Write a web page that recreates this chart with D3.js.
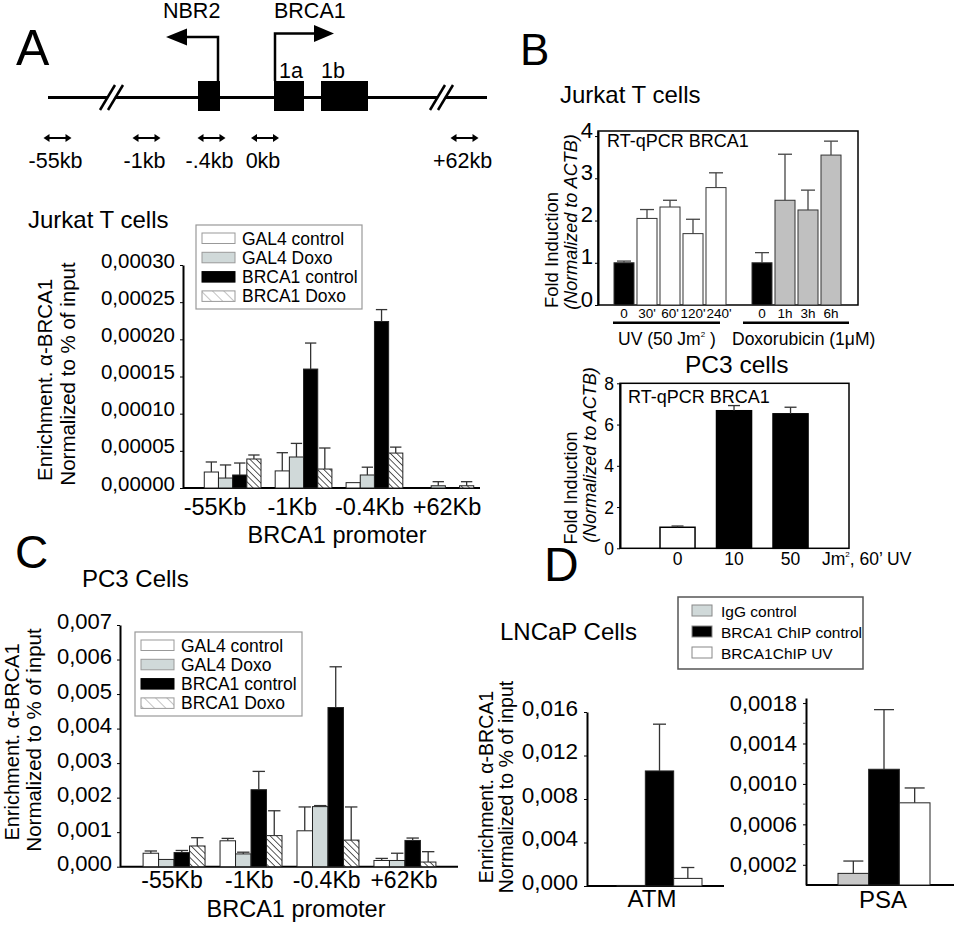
<!DOCTYPE html>
<html>
<head>
<meta charset="utf-8">
<script src="https://cdn.jsdelivr.net/npm/d3@7"></script>
<style>
body { margin: 0; background: #fff; }
svg text { font-family: "Liberation Sans", Arial, sans-serif; fill: #000; }
</style>
</head>
<body>
<svg id="fig" width="954" height="935"></svg>
<script>
// ---- data ----
var sites = ["-55Kb", "-1Kb", "-0.4Kb", "+62Kb"];
var chipSeries = ["GAL4 control", "GAL4 Doxo", "BRCA1 control", "BRCA1 Doxo"];
// rows = sites, cols = series
var jurkatChip = [
  [0.0000215, 0.0000134, 0.0000175, 0.000039],
  [0.000023, 0.0000417, 0.00016, 0.0000255],
  [0.0000072, 0.0000175, 0.000224, 0.000047],
  [0, 0.000003, 0, 0.000003]
];
var jurkatChipErr = [
  [0.0000135, 0.0000176, 0.0000161, 0.0000054],
  [0.0000245, 0.0000183, 0.000035, 0.0000283],
  [0, 0.0000105, 0.000016, 0.000008],
  [0, 0.0000055, 0, 0.0000055]
];
var pc3Chip = [
  [0.00039, 0.00021, 0.00041, 0.0006],
  [0.00075, 0.00037, 0.00223, 0.0009],
  [0.00104, 0.00174, 0.00461, 0.00077],
  [0.00018, 0.00018, 0.00076, 0.000135]
];
var pc3ChipErr = [
  [0.000065, 0.00001, 0.00006, 0.00024],
  [0.00007, 0.00005, 0.00053, 0.00072],
  [0.00069, 0.00003, 0.00118, 0.00096],
  [0.00006, 0.00021, 0.00007, 0.0003]
];

var rtLabels = ["0", "30'", "60'", "120'", "240'", "0", "1h", "3h", "6h"];
var rtTreat = ["none", "UV", "UV", "UV", "UV", "none", "Doxo", "Doxo", "Doxo"];
var rtJurkat = [1.0, 2.05, 2.32, 1.69, 2.78, 1.0, 2.48, 2.25, 3.55];
var rtJurkatErr = [0.04, 0.21, 0.16, 0.34, 0.35, 0.24, 1.09, 0.47, 0.33];

var uvDoses = ["0", "10", "50"];
var rtPC3 = [1.02, 6.67, 6.52];
var rtPC3Err = [0.06, 0.25, 0.32];

var lncapSeries = ["IgG control", "BRCA1 ChIP control", "BRCA1ChIP UV"];
var atm = [0.00005, 0.01058, 0.0007];
var atmErr = [0, 0.0043, 0.001];
var psa = [0.000115, 0.001145, 0.000813];
var psaErr = [0.000122, 0.00059, 0.000147];

var primers = ["-55kb", "-1kb", "-.4kb", "0kb", "+62kb"];

// ---- setup ----
var svg = d3.select("#fig");
var defs = svg.append("defs");

function hatch(id, gap, color, w) {
  var p = defs.append("pattern").attr("id", id)
    .attr("patternUnits", "userSpaceOnUse")
    .attr("width", gap).attr("height", gap)
    .attr("patternTransform", "rotate(-45)");
  p.append("rect").attr("width", gap).attr("height", gap).attr("fill", "#fff");
  p.append("line").attr("x1", 0).attr("y1", 0).attr("x2", 0).attr("y2", gap)
    .attr("stroke", color).attr("stroke-width", w);
}
hatch("hatch", 4.5, "#000", 1.3);
hatch("hatchLeg", 8, "#888", 1);

var chipFill = {"GAL4 control": "#fff", "GAL4 Doxo": "#d0d9d9", "BRCA1 control": "#000", "BRCA1 Doxo": "url(#hatch)"};
var chipLegFill = {"GAL4 control": "#fff", "GAL4 Doxo": "#d0d9d9", "BRCA1 control": "#000", "BRCA1 Doxo": "url(#hatchLeg)"};

function txt(x, y, s, size, anchor) {
  return svg.append("text").attr("x", x).attr("y", y).attr("font-size", size)
    .attr("text-anchor", anchor || "start").text(s);
}
function vlabel(cx, cy, s, size, italic) {
  return svg.append("text").attr("transform", "translate(" + cx + "," + cy + ") rotate(-90)")
    .attr("dy", "0.35em").attr("text-anchor", "middle").attr("font-size", size)
    .attr("font-style", italic ? "italic" : null).text(s);
}
function errBar(g, cx, yTop, yErr, cw, col) {
  if (Math.abs(yTop - yErr) < 0.5) return;
  g.append("line").attr("x1", cx).attr("x2", cx).attr("y1", yTop).attr("y2", yErr)
    .attr("stroke", col).attr("stroke-width", 1.3);
  g.append("line").attr("x1", cx - cw / 2).attr("x2", cx + cw / 2).attr("y1", yErr).attr("y2", yErr)
    .attr("stroke", col).attr("stroke-width", 1.3);
}
function commaFmt(f) {
  return function(d) { return d3.format(f)(d).replace(".", ","); };
}
function styleAxis(ax, size, dy) {
  ax.attr("font-size", size).attr("font-family", null);
  ax.select(".domain").attr("stroke-width", 2);
  ax.selectAll(".tick line").attr("stroke-width", 1);
  ax.selectAll(".tick text").attr("dy", dy);
}

// ---- panel A diagram ----
txt(16, 65, "A", 50);
svg.append("line").attr("x1", 48).attr("x2", 487).attr("y1", 97.5).attr("y2", 97.5)
  .attr("stroke", "#000").attr("stroke-width", 3);
[100, 430].forEach(function(bx) {
  svg.append("polygon").attr("points", [[bx, 110], [bx + 8, 110], [bx + 23, 85], [bx + 15, 85]].join(" "))
    .attr("fill", "#fff");
  [0, 8].forEach(function(o) {
    svg.append("line").attr("x1", bx + o).attr("y1", 110).attr("x2", bx + o + 15).attr("y2", 85)
      .attr("stroke", "#000").attr("stroke-width", 2.5);
  });
});
[[198, 220], [274, 304], [321, 368]].forEach(function(e) {
  svg.append("rect").attr("x", e[0]).attr("y", 81).attr("width", e[1] - e[0]).attr("height", 30).attr("fill", "#000");
});
svg.append("path").attr("d", "M218,81V37H184").attr("fill", "none").attr("stroke", "#000").attr("stroke-width", 2.5);
svg.append("polygon").attr("points", "166,37 187,28.5 187,45.5").attr("fill", "#000");
svg.append("path").attr("d", "M275,81V33.5H318").attr("fill", "none").attr("stroke", "#000").attr("stroke-width", 2.5);
svg.append("polygon").attr("points", "334,33.5 314,25 314,42").attr("fill", "#000");
txt(163, 18, "NBR2", 21.5);
txt(274, 18, "BRCA1", 21.5);
txt(279, 78, "1a", 21.5);
txt(321, 78, "1b", 21.5);

var primerX = d3.scaleOrdinal().domain(primers).range([57.5, 146.5, 211.5, 265, 464.5]);
primers.forEach(function(p) {
  var cx = primerX(p);
  svg.append("line").attr("x1", cx - 9).attr("x2", cx + 9).attr("y1", 138).attr("y2", 138)
    .attr("stroke", "#000").attr("stroke-width", 2);
  svg.append("polygon").attr("points", [[cx - 14, 138], [cx - 8, 134], [cx - 8, 142]].join(" ")).attr("fill", "#000");
  svg.append("polygon").attr("points", [[cx + 14, 138], [cx + 8, 134], [cx + 8, 142]].join(" ")).attr("fill", "#000");
  txt(cx - 2, 168, p, 21.5, "middle");
});

// ---- grouped ChIP chart (A, C) ----
function chipChart(c) {
  var g = svg.append("g");
  var y = d3.scaleLinear().domain([0, c.ymax]).range([c.y0, c.y1]);
  var x = d3.scaleBand().domain(sites).range([c.x0, c.x1]).paddingInner(c.pi).paddingOuter(c.po);
  var xs = d3.scaleBand().domain(chipSeries).range([0, x.bandwidth()]);
  var xl = d3.scalePoint().domain(sites).range(c.labRange);
  var ax = g.append("g").attr("transform", "translate(" + c.x0 + ",0)")
    .call(d3.axisLeft(y).tickValues(c.ticks).tickSize(3).tickSizeOuter(0).tickPadding(5).tickFormat(commaFmt(c.fmt)));
  styleAxis(ax, c.tickSize, c.dy);
  g.append("line").attr("x1", c.x0).attr("x2", c.xEnd).attr("y1", c.y0).attr("y2", c.y0)
    .attr("stroke", "#000").attr("stroke-width", 2);
  var flat = [];
  sites.forEach(function(s, i) {
    chipSeries.forEach(function(k, j) {
      flat.push({site: s, series: k, v: c.vals[i][j], e: c.errs[i][j]});
    });
  });
  g.selectAll("rect.bar").data(flat.filter(function(d) { return d.v > 0; })).enter().append("rect")
    .attr("class", "bar")
    .attr("x", function(d) { return x(d.site) + xs(d.series); })
    .attr("y", function(d) { return y(d.v); })
    .attr("width", xs.bandwidth())
    .attr("height", function(d) { return c.y0 - y(d.v); })
    .attr("fill", function(d) { return chipFill[d.series]; })
    .attr("stroke", "#222").attr("stroke-width", 1);
  flat.forEach(function(d) {
    if (d.e > 0) errBar(g, x(d.site) + xs(d.series) + xs.bandwidth() / 2, y(d.v), y(d.v + d.e), xs.bandwidth() * 0.8, "#333");
  });
  sites.forEach(function(s) {
    txt(xl(s), c.labY, s, c.labSize, "middle");
  });
  // legend
  var lg = c.leg;
  svg.append("rect").attr("x", lg.x).attr("y", lg.y).attr("width", lg.w).attr("height", lg.h)
    .attr("fill", "#fff").attr("stroke", "#999").attr("stroke-width", 1.2);
  chipSeries.forEach(function(k, j) {
    var ty = lg.y + 8 + j * 19.3;
    svg.append("rect").attr("x", lg.x + 6).attr("y", ty).attr("width", 33).attr("height", 10.5)
      .attr("fill", chipLegFill[k]).attr("stroke", k === "BRCA1 control" ? "#000" : "#999").attr("stroke-width", 1);
    txt(lg.x + 46, ty + 11.5, k, 17.5);
  });
}

txt(28, 228, "Jurkat T cells", 24);
chipChart({
  vals: jurkatChip, errs: jurkatChipErr, ymax: 0.0003, y0: 488, y1: 265,
  x0: 183, x1: 495, xEnd: 480, pi: 0.2, po: 0.3,
  ticks: d3.range(0, 0.000301, 0.00005), fmt: ".5f", tickSize: 20.5, dy: "0.1em",
  labY: 515, labSize: 23.5, labRange: [215, 447],
  leg: {x: 196, y: 225, w: 166, h: 84}
});
txt(337, 543, "BRCA1 promoter", 23.5, "middle");
vlabel(45, 380, "Enrichment. α-BRCA1", 20.5);
vlabel(68, 374, "Normalized to % of input", 20.5);

txt(15, 568, "C", 46);
txt(82, 587, "PC3 Cells", 24);
chipChart({
  vals: pc3Chip, errs: pc3ChipErr, ymax: 0.007, y0: 866.7, y1: 625,
  x0: 120, x1: 459, xEnd: 458, pi: 0.195, po: 0.3,
  ticks: d3.range(0, 0.00701, 0.001), fmt: ".3f", tickSize: 22, dy: "0.18em",
  labY: 888, labSize: 23, labRange: [172, 404],
  leg: {x: 135, y: 632, w: 167, h: 84}
});
txt(296, 917, "BRCA1 promoter", 23.5, "middle");
vlabel(12, 742, "Enrichment. α-BRCA1", 20);
vlabel(34, 740, "Normalized to % of input", 20.5);

// ---- panel B: RT-qPCR Jurkat ----
txt(520, 65, "B", 44);
txt(560, 103, "Jurkat T cells", 24);
var gB = svg.append("g");
var yB = d3.scaleLinear().domain([0, 4.12]).range([305, 131]);
var xB = d3.scaleBand().domain(d3.range(10)).range([612.5, 842.5]).paddingInner(0.13).paddingOuter(0.065);
function slotB(i) { return i < 5 ? i : i + 1; }
var axB = gB.append("g").attr("transform", "translate(598,0)")
  .call(d3.axisLeft(yB).tickValues([0, 1, 2, 3, 4]).tickSize(3).tickSizeOuter(0).tickPadding(2).tickFormat(d3.format("d")));
styleAxis(axB, 22, "0.05em");
gB.append("rect").attr("x", 598).attr("y", 131).attr("width", 260).attr("height", 174)
  .attr("fill", "none").attr("stroke", "#000").attr("stroke-width", 1.5);
var treatFill = {none: "#000", UV: "#fff", Doxo: "#c0c0c0"};
gB.selectAll("rect.bar").data(rtJurkat).enter().append("rect")
  .attr("x", function(d, i) { return xB(slotB(i)); })
  .attr("y", function(d) { return yB(d); })
  .attr("width", xB.bandwidth())
  .attr("height", function(d) { return yB(0) - yB(d); })
  .attr("fill", function(d, i) { return treatFill[rtTreat[i]]; })
  .attr("stroke", "#333").attr("stroke-width", 1);
rtJurkat.forEach(function(d, i) {
  errBar(gB, xB(slotB(i)) + xB.bandwidth() / 2, yB(d), yB(d + rtJurkatErr[i]), 14, "#444");
});
rtLabels.forEach(function(l, i) {
  txt(xB(slotB(i)) + xB.bandwidth() / 2 + (i === 4 ? 3 : 0), 318, l, 13.5, "middle");
});
gB.append("line").attr("x1", xB(0) - 1).attr("x2", xB(4) + 14).attr("y1", 322.7).attr("y2", 322.7)
  .attr("stroke", "#000").attr("stroke-width", 2.5);
gB.append("line").attr("x1", xB(6) - 9).attr("x2", xB(9) + xB.bandwidth() + 8).attr("y1", 322.7).attr("y2", 322.7)
  .attr("stroke", "#000").attr("stroke-width", 2.5);
txt(607, 147, "RT-qPCR BRCA1", 18);
var uvT = txt(618, 345, "UV (50 Jm", 17.5);
uvT.append("tspan").attr("font-size", 8).attr("dy", -8).text("2");
uvT.append("tspan").attr("dy", 8).text(" )");
txt(732, 345, "Doxorubicin (1μM)", 17.5);
vlabel(552, 250, "Fold Induction", 18.5);
vlabel(571, 222, "(Normalized to ACTB)", 18, true);

// ---- panel B: RT-qPCR PC3 ----
txt(685, 373, "PC3 cells", 24.5);
var gP = svg.append("g");
var yP = d3.scaleLinear().domain([0, 8]).range([548.3, 383.3]);
var xP = d3.scaleBand().domain(uvDoses).range([631.75, 836.3]).paddingInner(0.38).paddingOuter(0.5);
var axP = gP.append("g").attr("transform", "translate(620,0)")
  .call(d3.axisLeft(yP).tickValues([0, 2, 4, 6, 8]).tickSize(3).tickSizeOuter(0).tickPadding(3).tickFormat(d3.format("d")));
styleAxis(axP, 17.5, "0.35em");
gP.append("rect").attr("x", 620).attr("y", 383.3).attr("width", 229).attr("height", 165)
  .attr("fill", "none").attr("stroke", "#000").attr("stroke-width", 1.5);
gP.selectAll("rect.bar").data(rtPC3).enter().append("rect")
  .attr("x", function(d, i) { return xP(uvDoses[i]); })
  .attr("y", function(d) { return yP(d); })
  .attr("width", xP.bandwidth())
  .attr("height", function(d) { return yP(0) - yP(d); })
  .attr("fill", function(d, i) { return i === 0 ? "#fff" : "#000"; })
  .attr("stroke", "#000").attr("stroke-width", 1.5);
rtPC3.forEach(function(d, i) {
  errBar(gP, xP(uvDoses[i]) + xP.bandwidth() / 2, yP(d), yP(d + rtPC3Err[i]), 12, "#333");
});
uvDoses.forEach(function(l) {
  txt(xP(l) + xP.bandwidth() / 2, 565, l, 17.5, "middle");
});
var jm = txt(822, 565, "Jm", 17.5);
jm.append("tspan").attr("font-size", 8).attr("dy", -8).text("2");
jm.append("tspan").attr("dy", 8).text(", 60’ UV");
txt(628, 403, "RT-qPCR BRCA1", 18);
vlabel(571, 488, "Fold Induction", 18);
vlabel(590, 455, "(Normalized to ACTB)", 18, true);

// ---- panel D: LNCaP ChIP ----
txt(544, 581, "D", 48);
txt(500, 640, "LNCaP Cells", 24);
var lncapFill = {"IgG control": "#c8c8c8", "BRCA1 ChIP control": "#000", "BRCA1ChIP UV": "#fff"};
svg.append("rect").attr("x", 678).attr("y", 597).attr("width", 185).attr("height", 72)
  .attr("fill", "#fff").attr("stroke", "#555").attr("stroke-width", 1.5);
lncapSeries.forEach(function(k, j) {
  var ty = 605 + j * 21;
  svg.append("rect").attr("x", 692).attr("y", ty).attr("width", 20).attr("height", 11)
    .attr("fill", k === "IgG control" ? "#d0d9d9" : lncapFill[k]).attr("stroke", "#888").attr("stroke-width", 1);
  txt(721, ty + 11.5, k, 15.5);
});

function lncapChart(c) {
  var g = svg.append("g");
  var y = d3.scaleLinear().domain([0, c.ymax]).range([c.y0, c.y1]);
  var x = d3.scaleBand().domain(lncapSeries).range([c.b0, c.b1]);
  var ax = g.append("g").attr("transform", "translate(" + c.x0 + ",0)")
    .call(d3.axisLeft(y).tickValues(c.ticks).tickSize(3).tickSizeOuter(0).tickPadding(6).tickFormat(commaFmt(c.fmt)));
  styleAxis(ax, c.tickSize, c.dy);
  if (c.minor) {
    c.minor.forEach(function(t) {
      g.append("line").attr("x1", c.x0 - 3).attr("x2", c.x0).attr("y1", y(t)).attr("y2", y(t)).attr("stroke", "#555");
    });
  }
  g.append("line").attr("x1", c.x0).attr("x2", c.xEnd).attr("y1", c.y0).attr("y2", c.y0)
    .attr("stroke", "#000").attr("stroke-width", 2);
  g.selectAll("rect.bar").data(c.vals).enter().append("rect")
    .attr("x", function(d, i) { return x(lncapSeries[i]); })
    .attr("y", function(d) { return y(d); })
    .attr("width", x.bandwidth())
    .attr("height", function(d) { return c.y0 - y(d); })
    .attr("fill", function(d, i) { return lncapFill[lncapSeries[i]]; })
    .attr("stroke", "#222").attr("stroke-width", 1);
  c.vals.forEach(function(d, i) {
    errBar(g, x(lncapSeries[i]) + x.bandwidth() / 2, y(d), y(d + c.errs[i]), c.cap, "#333");
  });
  txt(c.labX, c.labY, c.name, 24, "middle");
}
lncapChart({
  name: "ATM", vals: atm, errs: atmErr, ymax: 0.016, y0: 886, y1: 712,
  x0: 587, xEnd: 724, b0: 617, b1: 702, ticks: d3.range(0, 0.01601, 0.004), fmt: ".3f",
  tickSize: 22.5, dy: "0.15em", cap: 13, labX: 652, labY: 907
});
lncapChart({
  name: "PSA", vals: psa, errs: psaErr, ymax: 0.00185, y0: 885, y1: 698,
  x0: 806, xEnd: 954, b0: 838, b1: 930, ticks: [0.0002, 0.0006, 0.001, 0.0014, 0.0018], fmt: ".4f",
  minor: [0.0004, 0.0008, 0.0012, 0.0016],
  tickSize: 22, dy: "0.32em", cap: 20, labX: 883, labY: 908
});
vlabel(486, 787, "Enrichment. α-BRCA1", 19.5);
vlabel(506, 787, "Normalized to % of input", 19.5);
</script>
</body>
</html>
